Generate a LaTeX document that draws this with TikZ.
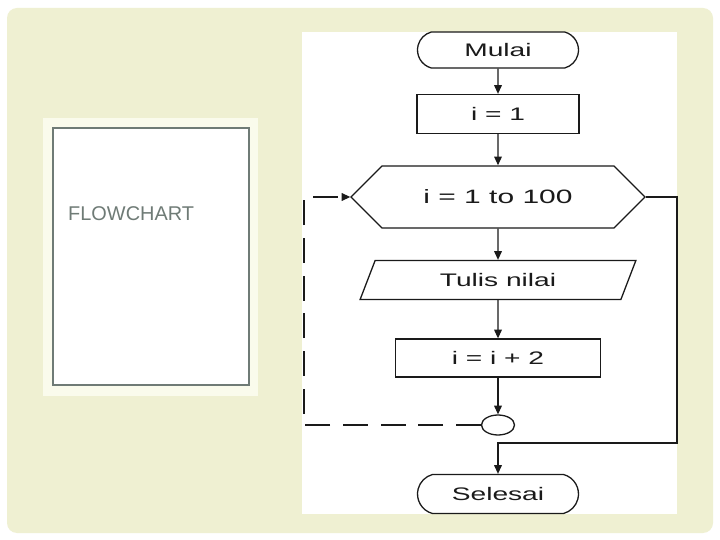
\documentclass[tikz,border=0pt]{standalone}
\usepackage{fontspec}
\setmainfont{Liberation Sans}
\newfontfamily\widesans[FakeStretch=1.55]{Liberation Sans}
\usepackage{tikz}
\usetikzlibrary{arrows.meta,shapes.geometric,shapes.misc}
\definecolor{FCPage}{HTML}{FFFFFF}
\definecolor{FCBeige}{HTML}{EFF0D2}
\definecolor{FCPale}{HTML}{FAFBEC}
\definecolor{FCGray}{HTML}{6F7B76}
\definecolor{FCInk}{HTML}{1A1A1A}
\tikzset{
  flow/.style={-{Triangle[length=2.6mm,width=2.3mm]},FCInk,line width=1.0pt},
  loopback/.style={flow,dashed,dash pattern=on 7.5mm off 3.8mm,line width=1.1pt},
  shapebase/.style={draw=FCInk,line width=1.1pt,fill=white,text=FCInk,
                    font=\widesans\fontsize{15.5}{18}\selectfont,inner sep=0pt},
  terminal/.style={shapebase,rounded rectangle,rounded rectangle arc length=150,
                   minimum width=4.83cm,minimum height=1.08cm},
  process/.style={shapebase,rectangle,minimum height=1.17cm},
  decision/.style={shapebase,chamfered rectangle,chamfered rectangle xsep=0.93cm,
                   chamfered rectangle ysep=0.72cm,minimum width=8.82cm,minimum height=1.44cm,
                   font=\widesans\fontsize{16.5}{19}\selectfont},
  inout/.style={shapebase,trapezium,trapezium left angle=62,trapezium right angle=118,
                trapezium stretches=true,minimum width=8.28cm,minimum height=1.17cm},
  joiner/.style={shapebase,ellipse,minimum width=0.99cm,minimum height=0.6cm},
  titlebox/.style={draw=FCGray,line width=1.6pt,fill=white},
  slidetitle/.style={text=FCGray,font=\fontsize{17}{20}\selectfont,anchor=west,inner sep=0pt},
}
\begin{document}
\begin{tikzpicture}[x=0.03cm,y=-0.03cm]
  \useasboundingbox[fill=FCPage] (0,0) rectangle (720,540);
  \fill[FCBeige,rounded corners=3mm] (7,8) rectangle (713,533);

  % left title card
  \fill[FCPale] (43,118) rectangle (258,396);
  \draw[titlebox] (53,128) rectangle (249,385);
  \node[slidetitle] (title) at (68,214) {FLOWCHART};

  % flowchart sheet
  \fill[white] (302,32) rectangle (677,514);

  \node[terminal] (start) at (498,50) {Mulai};
  \node[process,minimum width=4.86cm] (init) at (498,114) {i = 1};
  \node[decision] (loop) at (498,197) {i = 1 to 100};
  \node[inout] (write) at (498,280) {Tulis nilai};
  \node[process,minimum width=6.15cm,minimum height=1.14cm] (incr) at (498,358) {i = i + 2};
  \node[joiner] (join) at (498,425) {};
  \node[terminal,minimum height=1.17cm] (stop) at (498,494) {Selesai};

  \draw[flow] (start)--(init);
  \draw[flow] (init)--(loop);
  \draw[flow] (loop)--(write);
  \draw[flow] (write)--(incr);
  \draw[flow] (incr)--(join);

  % back to the loop head
  \coordinate (backlow) at (304,425);
  \coordinate (backtop) at (304,197);
  \draw[loopback] (join.west)--(backlow)--(backtop)--(loop.west);

  % leave the loop
  \coordinate (exittop) at (677,197);
  \coordinate (exitlow) at (677,443);
  \coordinate (exitjoin) at (498,443);
  \draw[flow] (loop.east)--(exittop)--(exitlow)--(exitjoin)--(stop.north);
\end{tikzpicture}
\end{document}
